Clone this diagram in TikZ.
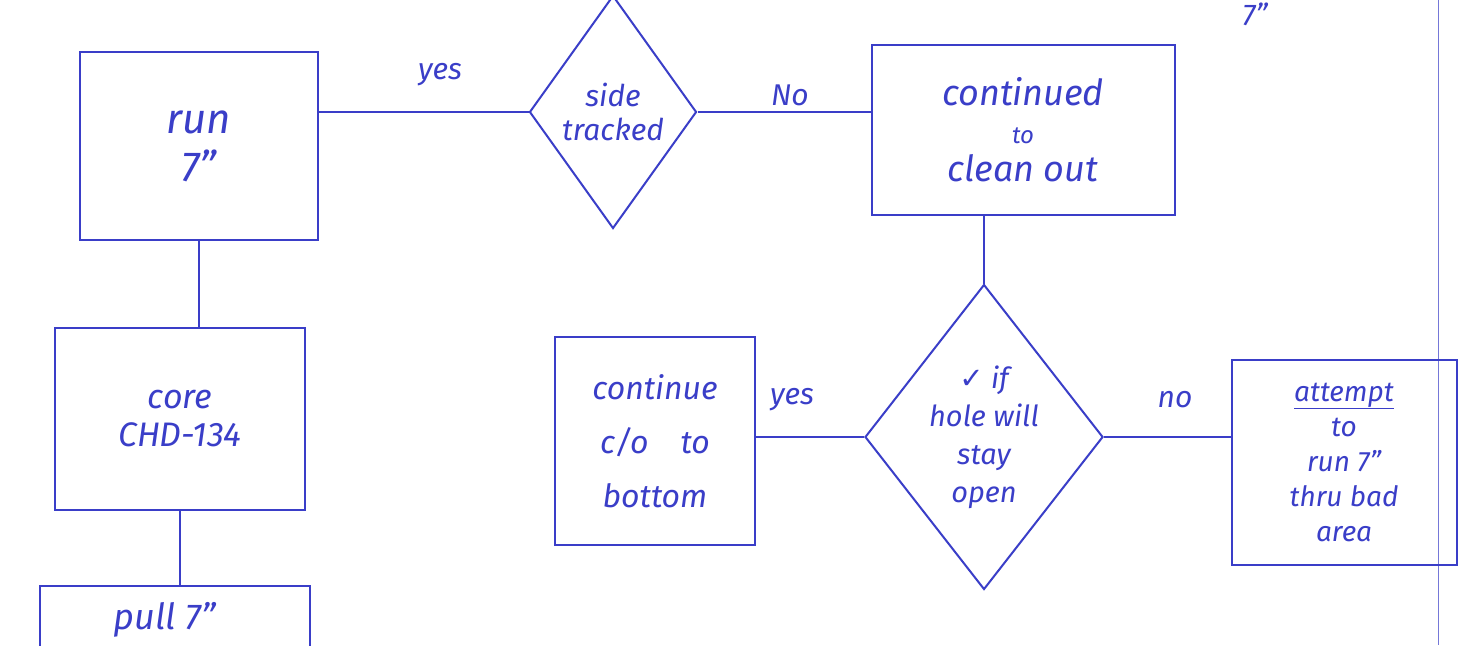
\documentclass[tikz,border=0pt]{standalone}
\usepackage{fontspec}
\setmainfont{Fira Sans}
\newfontfamily\symfont{DejaVu Sans}
\usetikzlibrary{shapes.geometric}
\definecolor{ink}{RGB}{58,62,200}
\begin{document}
\begin{tikzpicture}[x=1pt,y=-1pt,
  every node/.style={text=ink,font=\itshape},
  stepbox/.style={draw=ink,line width=2pt,inner sep=0pt,align=center},
  decision/.style={draw=ink,line width=2pt,diamond,inner sep=0pt,align=center},
  link/.style={draw=ink,line width=2pt},
  lbl/.style={font=\itshape\fontsize{30}{32}\selectfont}]
\useasboundingbox (0,0) rectangle (1463,645);
\fill[white] (0,0) rectangle (1463,645);
% margin line
\draw[ink!70,line width=1pt] (1438,0) -- (1438,645);
% boxes
\node[stepbox,minimum width=238pt,minimum height=188pt,font=\itshape\fontsize{42}{48}\selectfont] (run) at (199,146) {run\\7''};
\node[stepbox,minimum width=250pt,minimum height=182pt,font=\itshape\fontsize{34}{38}\selectfont] (core) at (180,419) {core\\CHD-134};
\node[stepbox,minimum width=270pt,minimum height=120pt,anchor=north] (pull) at (175,585) {};
\node[font=\itshape\fontsize{36}{40}\selectfont] (pulltxt) at (165,620) {pull 7''};
\node[stepbox,minimum width=200pt,minimum height=208pt,font=\itshape\fontsize{32}{54}\selectfont] (cc) at (655,441) {continue\\c/o\quad to\\bottom};
\node[stepbox,minimum width=303pt,minimum height=170pt,font=\itshape\fontsize{36}{38}\selectfont] (cont) at (1023,130) {continued\\{\fontsize{24}{26}\selectfont to}\\clean out};
\node[stepbox,minimum width=225pt,minimum height=205pt,font=\itshape\fontsize{28}{35}\selectfont] (att) at (1344,462) {\underline{attempt}\\to\\run 7''\\thru bad\\area};
% decisions
\node[decision,minimum width=167pt,minimum height=233pt,font=\itshape\fontsize{30}{34}\selectfont] (st) at (613,112) {side\\tracked};
\node[decision,minimum width=238pt,minimum height=305pt,aspect=0.78,font=\itshape\fontsize{29}{38}\selectfont] (hole) at (984,437) {{\symfont ✓} if\\hole will\\stay\\open};
% top-right fragment
\node[lbl] (frag) at (1255,14) {7''};
% connectors
\draw[link] (st.west) -- (st.west -| run.east);
\draw[link] (st.east) -- (st.east -| cont.west);
\draw[link] (hole.north) -- (hole.north |- cont.south);
\draw[link] (hole.west) -- (hole.west -| cc.east);
\draw[link] (hole.east) -- (hole.east -| att.west);
\draw[link] (run.south) -- (run.south |- core.north);
\draw[link] (core.south) -- (core.south |- pull.north);
% labels
\node[lbl] (l1) at (440,75) {yes};
\node[lbl] (l2) at (790,95) {No};
\node[lbl] (l3) at (792,400) {yes};
\node[lbl] (l4) at (1175,400) {no};
\end{tikzpicture}
\end{document}
